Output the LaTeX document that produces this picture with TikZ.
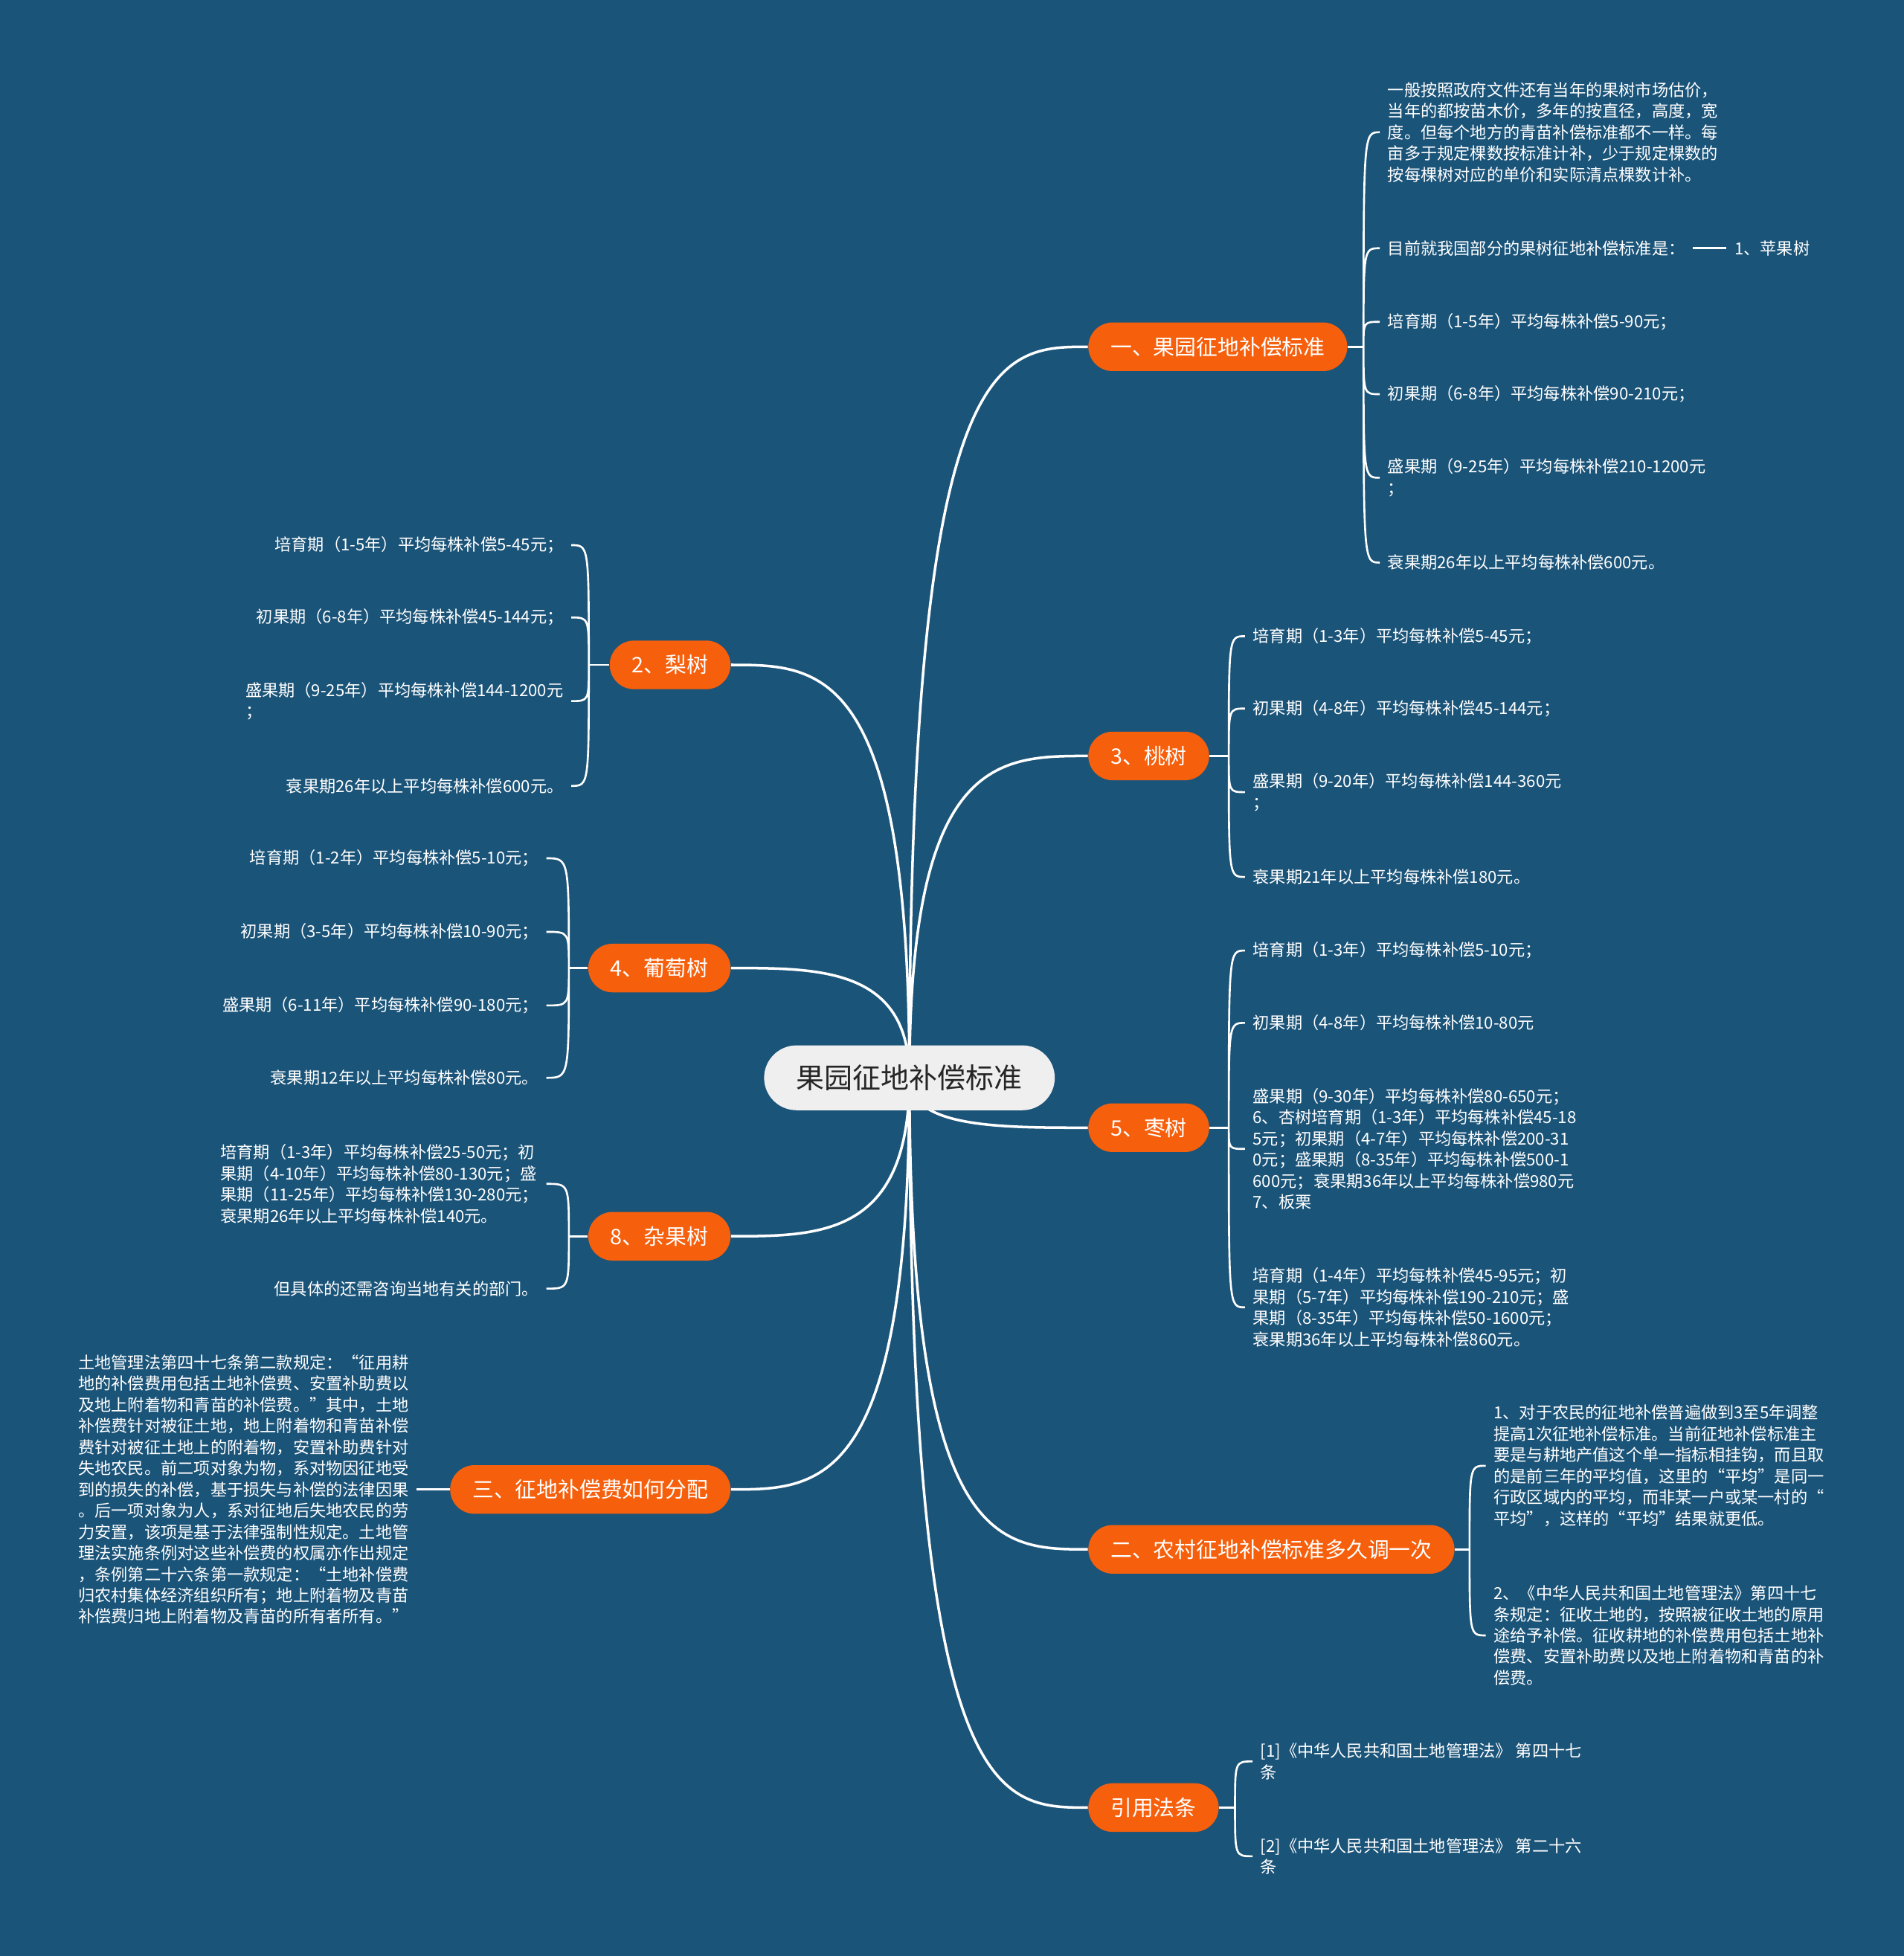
\documentclass[tikz,border=0pt]{standalone}
\usepackage{fontspec}
\setmainfont{Noto Sans CJK SC}
\usetikzlibrary{calc}
\definecolor{bgblue}{HTML}{1B5479}
\definecolor{pillorange}{HTML}{F65F0C}
\definecolor{rootgray}{HTML}{EFEFEF}
\pgfdeclarelayer{back}
\pgfdeclarelayer{wire}
\pgfsetlayers{back,wire,main}
\tikzset{
    root/.style={fill=rootgray,text=black!85,rounded corners=4.36mm,minimum height=8.72mm,inner xsep=4.36mm,inner ysep=0pt,font=\fontsize{10.8pt}{13pt}\selectfont},
    topic/.style={fill=pillorange,text=white,rounded corners=3.27mm,minimum height=6.54mm,inner xsep=3mm,inner ysep=0pt,font=\fontsize{8.2pt}{10pt}\selectfont},
    leaf/.style={text=white,align=left,inner xsep=1mm,inner ysep=0.4mm,font=\fontsize{6.32pt}{8.1pt}\selectfont},
    branch/.style={draw=white,line width=1pt,to path={(\tikztostart) .. controls (\tikztostart |- \tikztotarget) and ($(\tikztostart |- \tikztotarget)!0.5!(\tikztotarget)$) .. (\tikztotarget)}},
    brace/.style={draw=white,line width=0.75pt,to path={(\tikztostart) .. controls (\tikztostart |- \tikztotarget) and (\tikztostart |- \tikztotarget) .. (\tikztotarget)}},
    stem/.style={draw=white,line width=0.75pt}
}
\begin{document}
\begin{tikzpicture}[x=0.16776mm,y=-0.16776mm]
    \useasboundingbox (0,0) rectangle (1526,1568);
    \begin{pgfonlayer}{back}
        \fill[bgblue] (0,0) rectangle (1526,1568);
    \end{pgfonlayer}

    \node[root] (root) at (729,864) {果园征地补偿标准};

    \node[topic,anchor=west] (orchard) at (872,278) {一、果园征地补偿标准};
    \node[topic,anchor=west] (peach) at (872,606) {3、桃树};
    \node[topic,anchor=west] (jujube) at (872,904) {5、枣树};
    \node[topic,anchor=west] (adjust) at (872,1242) {二、农村征地补偿标准多久调一次};
    \node[topic,anchor=west] (laws) at (872,1449) {引用法条};
    \node[topic,anchor=east] (pear) at (586,533) {2、梨树};
    \node[topic,anchor=east] (grape) at (586,776) {4、葡萄树};
    \node[topic,anchor=east] (misc) at (586,991) {8、杂果树};
    \node[topic,anchor=east] (split) at (586,1194) {三、征地补偿费如何分配};

    \coordinate (orchardJ) at (1093,278);
    \coordinate (peachJ) at (985,606);
    \coordinate (jujubeJ) at (985,904);
    \coordinate (adjustJ) at (1178,1242);
    \coordinate (lawsJ) at (990,1449);
    \coordinate (pearJ) at (472,533);
    \coordinate (grapeJ) at (456,776);
    \coordinate (miscJ) at (456,991);

    \node[leaf,anchor=west] (orchard1) at (1106,106) {一般按照政府文件还有当年的果树市场估价，\\当年的都按苗木价，多年的按直径，高度，宽\\度。但每个地方的青苗补偿标准都不一样。每\\亩多于规定棵数按标准计补，少于规定棵数的\\按每棵树对应的单价和实际清点棵数计补。};
    \node[leaf,anchor=west] (orchard2) at (1106,199) {目前就我国部分的果树征地补偿标准是：};
    \node[leaf,anchor=west] (apple) at (1384,199) {1、苹果树};
    \node[leaf,anchor=west] (orchard3) at (1106,258) {培育期（1-5年）平均每株补偿5-90元；};
    \node[leaf,anchor=west] (orchard4) at (1106,316) {初果期（6-8年）平均每株补偿90-210元；};
    \node[leaf,anchor=west] (orchard5) at (1106,383) {盛果期（9-25年）平均每株补偿210-1200元\\；};
    \node[leaf,anchor=west] (orchard6) at (1106,451) {衰果期26年以上平均每株补偿600元。};

    \node[leaf,anchor=west] (peach1) at (998,510) {培育期（1-3年）平均每株补偿5-45元；};
    \node[leaf,anchor=west] (peach2) at (998,568) {初果期（4-8年）平均每株补偿45-144元；};
    \node[leaf,anchor=west] (peach3) at (998,635) {盛果期（9-20年）平均每株补偿144-360元\\；};
    \node[leaf,anchor=west] (peach4) at (998,703) {衰果期21年以上平均每株补偿180元。};

    \node[leaf,anchor=west] (jujube1) at (998,762) {培育期（1-3年）平均每株补偿5-10元；};
    \node[leaf,anchor=west] (jujube2) at (998,820) {初果期（4-8年）平均每株补偿10-80元};
    \node[leaf,anchor=west] (jujube3) at (998,921) {盛果期（9-30年）平均每株补偿80-650元；\\6、杏树培育期（1-3年）平均每株补偿45-18\\5元；初果期（4-7年）平均每株补偿200-31\\0元；盛果期（8-35年）平均每株补偿500-1\\600元；衰果期36年以上平均每株补偿980元\\7、板栗};
    \node[leaf,anchor=west] (jujube4) at (998,1048) {培育期（1-4年）平均每株补偿45-95元；初\\果期（5-7年）平均每株补偿190-210元；盛\\果期（8-35年）平均每株补偿50-1600元；\\衰果期36年以上平均每株补偿860元。};

    \node[leaf,anchor=west] (adjust1) at (1191,1175) {1、对于农民的征地补偿普遍做到3至5年调整\\提高1次征地补偿标准。当前征地补偿标准主\\要是与耕地产值这个单一指标相挂钩，而且取\\的是前三年的平均值，这里的“平均”是同一\\行政区域内的平均，而非某一户或某一村的“\\平均”，这样的“平均”结果就更低。};
    \node[leaf,anchor=west] (adjust2) at (1191,1311) {2、《中华人民共和国土地管理法》第四十七\\条规定：征收土地的，按照被征收土地的原用\\途给予补偿。征收耕地的补偿费用包括土地补\\偿费、安置补助费以及地上附着物和青苗的补\\偿费。};

    \node[leaf,anchor=west] (laws1) at (1004,1412) {[1]《中华人民共和国土地管理法》 第四十七\\条};
    \node[leaf,anchor=west] (laws2) at (1004,1488) {[2]《中华人民共和国土地管理法》 第二十六\\条};

    \node[leaf,anchor=east] (pear1) at (458,437) {培育期（1-5年）平均每株补偿5-45元；};
    \node[leaf,anchor=east] (pear2) at (458,495) {初果期（6-8年）平均每株补偿45-144元；};
    \node[leaf,anchor=east] (pear3) at (458,562) {盛果期（9-25年）平均每株补偿144-1200元\\；};
    \node[leaf,anchor=east] (pear4) at (458,630) {衰果期26年以上平均每株补偿600元。};

    \node[leaf,anchor=east] (grape1) at (438,688) {培育期（1-2年）平均每株补偿5-10元；};
    \node[leaf,anchor=east] (grape2) at (438,747) {初果期（3-5年）平均每株补偿10-90元；};
    \node[leaf,anchor=east] (grape3) at (438,806) {盛果期（6-11年）平均每株补偿90-180元；};
    \node[leaf,anchor=east] (grape4) at (438,864) {衰果期12年以上平均每株补偿80元。};

    \node[leaf,anchor=east] (misc1) at (438,949) {培育期（1-3年）平均每株补偿25-50元；初\\果期（4-10年）平均每株补偿80-130元；盛\\果期（11-25年）平均每株补偿130-280元；\\衰果期26年以上平均每株补偿140元。};
    \node[leaf,anchor=east] (misc2) at (438,1033) {但具体的还需咨询当地有关的部门。};

    \node[leaf,anchor=east] (split1) at (334,1194) {土地管理法第四十七条第二款规定：“征用耕\\地的补偿费用包括土地补偿费、安置补助费以\\及地上附着物和青苗的补偿费。”其中，土地\\补偿费针对被征土地，地上附着物和青苗补偿\\费针对被征土地上的附着物，安置补助费针对\\失地农民。前二项对象为物，系对物因征地受\\到的损失的补偿，基于损失与补偿的法律因果\\。后一项对象为人，系对征地后失地农民的劳\\力安置，该项是基于法律强制性规定。土地管\\理法实施条例对这些补偿费的权属亦作出规定\\，条例第二十六条第一款规定：“土地补偿费\\归农村集体经济组织所有；地上附着物及青苗\\补偿费归地上附着物及青苗的所有者所有。”};

    \begin{pgfonlayer}{wire}
        \draw[branch] (root.center) to (orchard.west) (root.center) to (peach.west) (root.center) to (jujube.west) (root.center) to (adjust.west) (root.center) to (laws.west);
        \draw[branch] (root.center) to (pear.east) (root.center) to (grape.east) (root.center) to (misc.east) (root.center) to (split.east);

        \draw[stem] (orchard.east) -- (orchardJ) (peach.east) -- (peachJ) (jujube.east) -- (jujubeJ) (adjust.east) -- (adjustJ) (laws.east) -- (lawsJ);
        \draw[stem] (pear.west) -- (pearJ) (grape.west) -- (grapeJ) (misc.west) -- (miscJ) (split.west) -- (split1.east);
        \draw[stem] (orchard2.east) -- (apple.west);

        \draw[brace] (orchardJ) to (orchard1.west) (orchardJ) to (orchard2.west) (orchardJ) to (orchard3.west) (orchardJ) to (orchard4.west) (orchardJ) to (orchard5.west) (orchardJ) to (orchard6.west);
        \draw[brace] (peachJ) to (peach1.west) (peachJ) to (peach2.west) (peachJ) to (peach3.west) (peachJ) to (peach4.west);
        \draw[brace] (jujubeJ) to (jujube1.west) (jujubeJ) to (jujube2.west) (jujubeJ) to (jujube3.west) (jujubeJ) to (jujube4.west);
        \draw[brace] (adjustJ) to (adjust1.west) (adjustJ) to (adjust2.west);
        \draw[brace] (lawsJ) to (laws1.west) (lawsJ) to (laws2.west);
        \draw[brace] (pearJ) to (pear1.east) (pearJ) to (pear2.east) (pearJ) to (pear3.east) (pearJ) to (pear4.east);
        \draw[brace] (grapeJ) to (grape1.east) (grapeJ) to (grape2.east) (grapeJ) to (grape3.east) (grapeJ) to (grape4.east);
        \draw[brace] (miscJ) to (misc1.east) (miscJ) to (misc2.east);
    \end{pgfonlayer}
\end{tikzpicture}
\end{document}
